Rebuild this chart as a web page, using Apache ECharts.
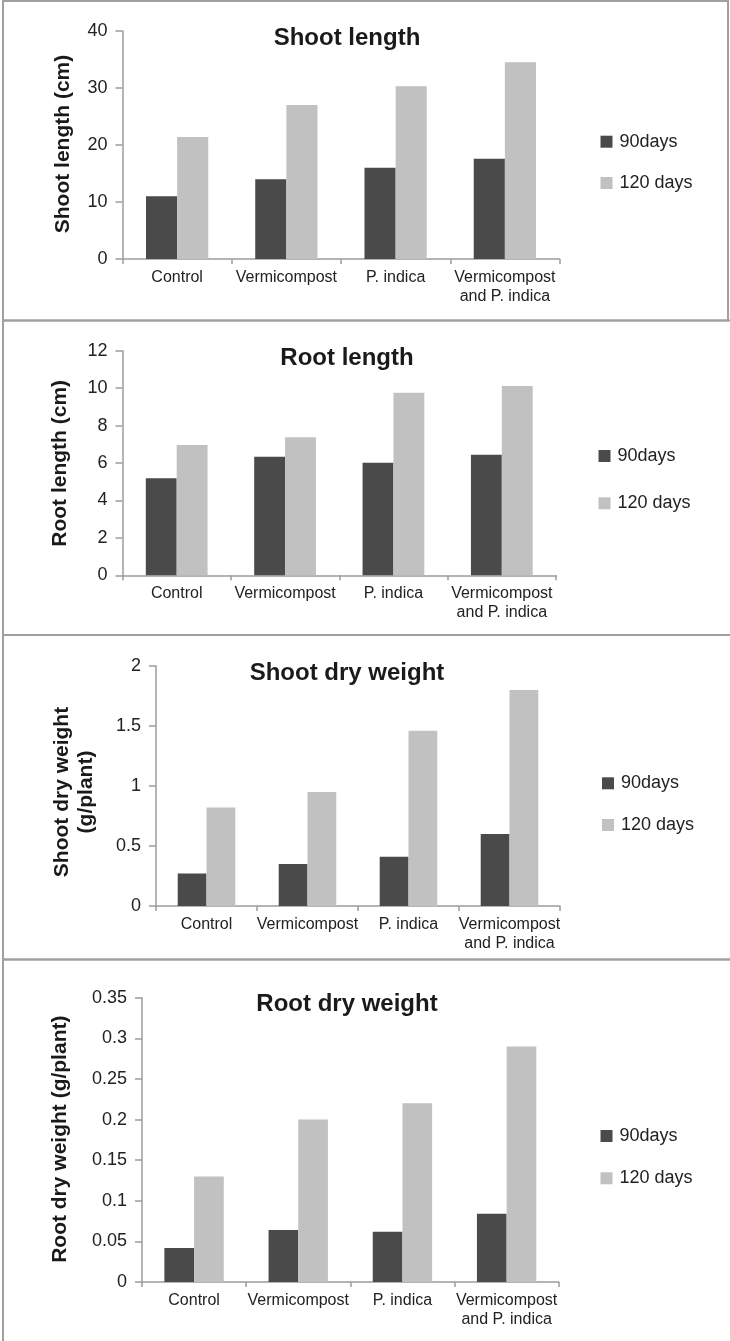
<!DOCTYPE html>
<html>
<head>
<meta charset="utf-8">
<script src="https://cdn.jsdelivr.net/npm/echarts@6/dist/echarts.min.js"></script>
<style>
html,body{margin:0;padding:0;background:#fff;}
#chart{width:730px;height:1341px;}
</style>
</head>
<body>
<div id="chart"></div>
<script>
// ---- data ----
const categories = ['Control', 'Vermicompost', 'P. indica', 'Vermicompost\nand P. indica'];
const seriesNames = ['90days', '120 days'];

const panelTitles = ['Shoot length', 'Root length', 'Shoot dry weight', 'Root dry weight'];
const yAxisTitles = ['Shoot length (cm)', 'Root length (cm)', 'Shoot dry weight\n(g/plant)', 'Root dry weight (g/plant)'];

const shootLength90 = [11.0, 14.0, 16.0, 17.6];
const shootLength120 = [21.4, 27.0, 30.3, 34.5];
const rootLength90 = [5.18, 6.33, 6.01, 6.44];
const rootLength120 = [6.96, 7.37, 9.76, 10.11];
const shootDryWeight90 = [0.27, 0.35, 0.41, 0.60];
const shootDryWeight120 = [0.82, 0.95, 1.46, 1.80];
const rootDryWeight90 = [0.042, 0.064, 0.062, 0.084];
const rootDryWeight120 = [0.13, 0.20, 0.22, 0.29];

const yMax = [40, 12, 2, 0.35];
const yInterval = [10, 2, 0.5, 0.05];

// ---- layout / style ----
const FONT = "'Liberation Sans', Arial, Helvetica, sans-serif";
const DARK = '#4a4a4a';
const LIGHT = '#c1c1c1';
const AXIS = '#9c9c9c';
const TEXT = '#222';

const grids = [
  {left: 122.5, top: 31, width: 437, height: 228},
  {left: 122.5, top: 350.7, width: 433.5, height: 224.6},
  {left: 156, top: 666, width: 404, height: 240},
  {left: 142, top: 997.7, width: 416.7, height: 284.3}
];
const titlePos = [[347, 38], [347, 358.3], [347, 673.3], [347, 1004]];
const yTitlePos = [[63, 144], [60.5, 463.3], [74, 792], [60.5, 1139.2]];
const legendPos = [
  {left: 600.5, top: 132.7, itemGap: 23.3},
  {left: 598.5, top: 447, itemGap: 29.3},
  {left: 602, top: 774.3, itemGap: 23.7},
  {left: 600.5, top: 1127, itemGap: 24.3}
];
const panelRects = [
  [3, 1, 725, 319.5],
  [3, 320.5, 729, 314.5],
  [3, 635, 729, 324.5],
  [3, 959.5, 729, 390]
];

const seriesData = [
  [shootLength90, shootLength120],
  [rootLength90, rootLength120],
  [shootDryWeight90, shootDryWeight120],
  [rootDryWeight90, rootDryWeight120]
];

const xAxes = [], yAxes = [], series = [], legends = [], graphics = [];

grids.forEach((g, i) => {
  xAxes.push({
    type: 'category', gridIndex: i, data: categories,
    axisLine: {lineStyle: {color: AXIS, width: 1.5}},
    axisTick: {show: true, length: 5, lineStyle: {color: AXIS, width: 1.5}},
    axisLabel: {interval: 0, margin: 9, fontFamily: FONT, fontSize: 16, lineHeight: 19, color: TEXT}
  });
  yAxes.push({
    type: 'value', gridIndex: i, min: 0, max: yMax[i], interval: yInterval[i],
    splitLine: {show: false},
    axisLine: {show: true, lineStyle: {color: AXIS, width: 1.5}},
    axisTick: {show: true, length: 7, lineStyle: {color: AXIS, width: 1.5}},
    axisLabel: {margin: 15, fontFamily: FONT, fontSize: 18, color: TEXT}
  });
  seriesData[i].forEach((d, k) => {
    series.push({
      type: 'bar', name: seriesNames[k], xAxisIndex: i, yAxisIndex: i, data: d,
      itemStyle: {color: k === 0 ? DARK : LIGHT},
      barGap: '0%', barCategoryGap: '43%',
      emphasis: {disabled: true}
    });
  });
  legends.push({
    orient: 'vertical', left: legendPos[i].left, top: legendPos[i].top,
    itemGap: legendPos[i].itemGap, itemWidth: 12, itemHeight: 12, padding: 0,
    icon: 'rect', selectedMode: false,
    data: seriesNames,
    textStyle: {fontFamily: FONT, fontSize: 18, color: TEXT, lineHeight: 18, padding: [0, 0, 0, 2]}
  });
  graphics.push({
    type: 'rect', shape: {x: panelRects[i][0], y: panelRects[i][1], width: panelRects[i][2], height: panelRects[i][3]},
    style: {fill: null, stroke: '#a0a0a0', lineWidth: 2}, z: -1, silent: true
  });
  graphics.push({
    type: 'text', x: titlePos[i][0], y: titlePos[i][1], silent: true,
    style: {text: panelTitles[i], fontFamily: FONT, fontSize: 24, fontWeight: 'bold', fill: '#1a1a1a',
            align: 'center', verticalAlign: 'middle'}
  });
  graphics.push({
    type: 'text', x: yTitlePos[i][0], y: yTitlePos[i][1], rotation: Math.PI / 2, silent: true,
    style: {text: yAxisTitles[i], fontFamily: FONT, fontSize: 21, fontWeight: 'bold', fill: '#1a1a1a',
            lineHeight: 24.5, align: 'center', verticalAlign: 'middle'}
  });
});

const chart = echarts.init(document.getElementById('chart'), null, {renderer: 'canvas'});
chart.setOption({
  animation: false,
  backgroundColor: '#fff',
  grid: grids,
  xAxis: xAxes,
  yAxis: yAxes,
  legend: legends,
  series: series,
  graphic: graphics
});
</script>
</body>
</html>
